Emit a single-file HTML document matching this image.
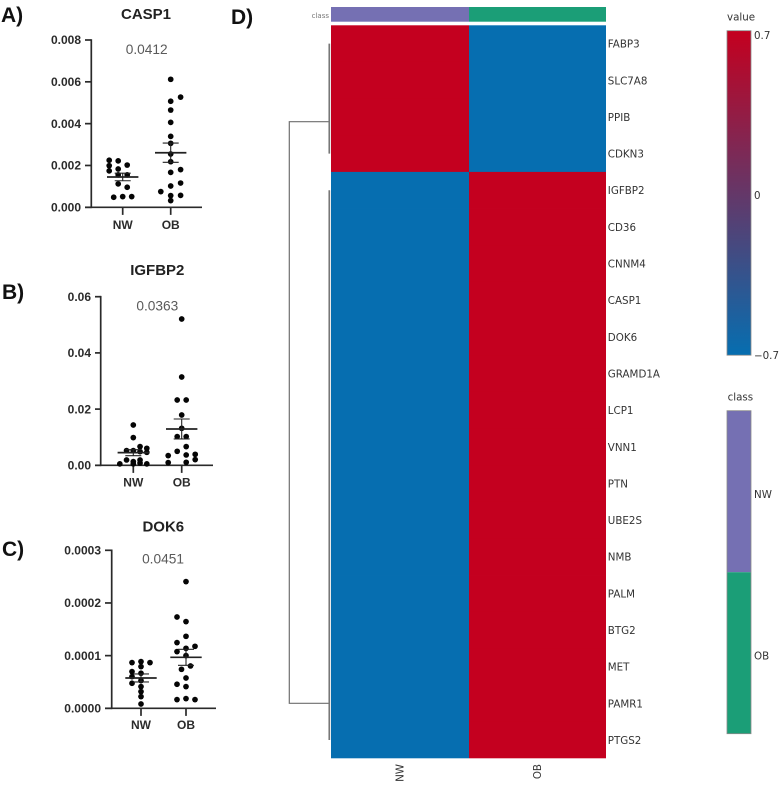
<!DOCTYPE html>
<html lang="en">
<head>
<meta charset="utf-8">
<title>Gene expression panels and heatmap</title>
<style>
  html, body { margin: 0; padding: 0; background: #fff; }
  #figure { display: block; width: 784px; height: 785px; filter: blur(0.35px); }
  .panel-letter { font: bold 21px "Liberation Sans", sans-serif; fill: #111; }
  .panel-title { font: bold 15px "Liberation Sans", sans-serif; fill: #222; text-anchor: middle; }
  .p-value { font: 13.7px "Liberation Sans", sans-serif; fill: #5a5a5a; text-anchor: middle; }
  .tick-label { font: bold 12px "Liberation Sans", sans-serif; fill: #2b2b2b; }
  .hm-label { font: 10.3px "DejaVu Sans", sans-serif; fill: #333; }
</style>
</head>
<body>
<svg id="figure" xmlns="http://www.w3.org/2000/svg" width="784" height="785" viewBox="0 0 784 785">
  <defs>
    <linearGradient id="value-gradient" x1="0" y1="0" x2="0" y2="1"></linearGradient>
  </defs>
  <rect x="0" y="0" width="784" height="785" fill="#fff"/>

  <text class="panel-letter" x="1" y="22">A)</text>
  <text class="panel-letter" x="2" y="299">B)</text>
  <text class="panel-letter" x="2" y="556">C)</text>
  <text class="panel-letter" x="231" y="24">D)</text>

  <text class="panel-title" x="146" y="19">CASP1</text>
  <text class="p-value" x="146.7" y="54">0.0412</text>
  <text class="panel-title" x="157.3" y="275">IGFBP2</text>
  <text class="p-value" x="157.3" y="310.7">0.0363</text>
  <text class="panel-title" x="163.3" y="531.3">DOK6</text>
  <text class="p-value" x="163" y="563.3">0.0451</text>

  <g id="scatter-a"></g>
  <g id="scatter-b"></g>
  <g id="scatter-c"></g>

  <text class="hm-label" x="329" y="18" text-anchor="end" style="font-size:7px;fill:#777">class</text>
  <g id="heatmap"></g>

  <text class="hm-label" x="727" y="20.7">value</text>
  <rect x="727" y="30.7" width="24" height="324.5" fill="url(#value-gradient)" stroke="#8a8a8a" stroke-width="0.8"/>
  <g id="value-legend"></g>

  <text class="hm-label" x="727.6" y="400.7">class</text>
  <g id="class-legend"></g>
</svg>

<script>
/* ---------- Scatter data ---------- */
const groupLabels = ['NW', 'OB'];

const casp1Ticks = ['0.000', '0.002', '0.004', '0.006', '0.008'];
const casp1NW = [0.00225, 0.00222, 0.00199, 0.00202, 0.00174, 0.00183, 0.00155, 0.00155, 0.00112, 0.00096, 0.00048, 0.00051, 0.00051];
const casp1NWSlots = [-3, -1, -3, 1, -3, -1, -1, 1, -1, 1, -2, 0, 2];
const casp1OB = [0.00612, 0.00527, 0.00507, 0.00465, 0.00406, 0.00339, 0.00306, 0.00255, 0.00218, 0.00167, 0.0018, 0.00102, 0.00116, 0.00075, 0.00056, 0.00057, 0.00032];
const casp1OBSlots = [0, 2.2, 0, 0, 0, 0, 0, 0, 0, 0, 2.2, 0, 2.2, -2.2, 0, 2.2, 0];
const casp1Means = [0.00145, 0.00261];
const casp1Sems = [0.00018, 0.00046];

const igfbp2Ticks = ['0.00', '0.02', '0.04', '0.06'];
const igfbp2NW = [0.01435, 0.00984, 0.00664, 0.00605, 0.00522, 0.00522, 0.00486, 0.00462, 0.0019, 0.0013, 0.0019, 0.0005, 0.0005, 0.0005, 0.0008];
const igfbp2NWSlots = [0, 0, 1.5, 3, -1.5, 0, 1.5, 3, -1.5, 0, 1.5, -3, 0, 3, 1.5];
const igfbp2OB = [0.05206, 0.03142, 0.02324, 0.02324, 0.0179, 0.01316, 0.0102, 0.0102, 0.00664, 0.00498, 0.00344, 0.00368, 0.00391, 0.00202, 0.00095, 0.00107];
const igfbp2OBSlots = [0, 0, -1, 1, 0, 0, -1, 1, 1, -1, -3, 1, 3, 3, -3, 1];
const igfbp2Means = [0.0045, 0.01293];
const igfbp2Sems = [0.00107, 0.00355];

const dok6Ticks = ['0.0000', '0.0001', '0.0002', '0.0003'];
const dok6NW = [0.0000867, 0.0000886, 0.0000867, 0.0000791, 0.0000696, 0.0000665, 0.0000601, 0.0000525, 0.0000475, 0.0000411, 0.0000316, 0.0000222, 0.0000082];
const dok6NWSlots = [-2, 0, 2, 0, -2, 0, -2, 0, -2, 0, 0, 0, 0];
const dok6OB = [0.0002405, 0.0001734, 0.0001646, 0.0001367, 0.0001247, 0.0001177, 0.0001139, 0.0001076, 0.0001, 0.0000804, 0.000074, 0.0000576, 0.0000456, 0.0000411, 0.0000165, 0.0000184, 0.0000165];
const dok6OBSlots = [0, -2, 0, 0, -2, 2, 0, -2, 0, 1, -1, 0, -2, 0, -2, 0, 2];
const dok6Means = [0.0000576, 0.0000968];
const dok6Sems = [0.0000076, 0.0000152];

/* ---------- Heatmap data ---------- */
const geneNames = ['FABP3', 'SLC7A8', 'PPIB', 'CDKN3', 'IGFBP2', 'CD36', 'CNNM4', 'CASP1', 'DOK6', 'GRAMD1A', 'LCP1', 'VNN1', 'PTN', 'UBE2S', 'NMB', 'PALM', 'BTG2', 'MET', 'PAMR1', 'PTGS2'];
const heatNW = [0.7, 0.7, 0.7, 0.7, -0.7, -0.7, -0.7, -0.7, -0.7, -0.7, -0.7, -0.7, -0.7, -0.7, -0.7, -0.7, -0.7, -0.7, -0.7, -0.7];
const heatOB = [-0.7, -0.7, -0.7, -0.7, 0.7, 0.7, 0.7, 0.7, 0.7, 0.7, 0.7, 0.7, 0.7, 0.7, 0.7, 0.7, 0.7, 0.7, 0.7, 0.7];
const valueTicks = [0.7, 0, -0.7];
const classNames = ['NW', 'OB'];

const SVG_NS = 'http://www.w3.org/2000/svg';
const SLOT_PX = 4.5;

function make(tag, attrs, parent) {
  const el = document.createElementNS(SVG_NS, tag);
  for (const key in attrs) el.setAttribute(key, attrs[key]);
  parent.appendChild(el);
  return el;
}

function linearScale(d0, d1, r0, r1) {
  return function (v) { return r0 + (v - d0) / (d1 - d0) * (r1 - r0); };
}

function drawScatter(host, key, cfg) {
  const y = linearScale(0, Number(cfg.ticks[cfg.ticks.length - 1]), cfg.y0, cfg.yTop);
  const INK = '#2a2a2a';

  const yAxis = make('line', { x1: cfg.axisX, x2: cfg.axisX, y1: cfg.yTop - 0.8, y2: cfg.y0 + 0.8, stroke: INK, 'stroke-width': 1.7 }, host);
  
  

  const xAxis = make('line', { x1: cfg.axisLeft, x2: cfg.axisRight, y1: cfg.y0, y2: cfg.y0, stroke: INK, 'stroke-width': 1.7 }, host);
  
  

  cfg.ticks.forEach(function (label) {
    const ty = y(Number(label));
    const tick = make('line', { x1: cfg.axisLeft, x2: cfg.axisX, y1: ty, y2: ty, stroke: INK, 'stroke-width': 1.7 }, host);
    
    

    const text = make('text', { class: 'tick-label', x: cfg.axisLeft - 4, y: ty + 4.2, 'text-anchor': 'end' }, host);
    text.textContent = label;
    
    
  });

  groupLabels.forEach(function (group, g) {
    const cx = cfg.centers[g];

    const tick = make('line', { x1: cx, x2: cx, y1: cfg.y0, y2: cfg.y0 + 7.6, stroke: INK, 'stroke-width': 1.7 }, host);
    
    

    const label = make('text', { class: 'tick-label', x: cx, y: cfg.labelY, 'text-anchor': 'middle' }, host);
    label.textContent = group;
    
    

    cfg.values[g].forEach(function (v, i) {
      const dot = make('circle', { cx: cx + cfg.slots[g][i] * SLOT_PX, cy: y(v), r: 2.85, fill: '#050505' }, host);
      
      
    });

    const meanY = y(cfg.means[g]);
    const upY = y(cfg.means[g] + cfg.sems[g]);
    const downY = y(cfg.means[g] - cfg.sems[g]);

    const mean = make('line', { x1: cx - 15.7, x2: cx + 15.7, y1: meanY, y2: meanY, stroke: '#222', 'stroke-width': 1.7 }, host);
    
    

    const stem = make('line', { x1: cx, x2: cx, y1: upY, y2: downY, stroke: '#222', 'stroke-width': 1.1 }, host);
    
    

    const capUp = make('line', { x1: cx - 8, x2: cx + 8, y1: upY, y2: upY, stroke: '#222', 'stroke-width': 1.1 }, host);
    
    

    const capDown = make('line', { x1: cx - 8, x2: cx + 8, y1: downY, y2: downY, stroke: '#222', 'stroke-width': 1.1 }, host);
    
    
  });
}

drawScatter(document.getElementById('scatter-a'), 'casp1', {
  ticks: casp1Ticks, values: [casp1NW, casp1OB], slots: [casp1NWSlots, casp1OBSlots],
  means: casp1Means, sems: casp1Sems,
  axisX: 91.3, axisLeft: 85, axisRight: 202, y0: 207.3, yTop: 40,
  centers: [122.7, 170.7], labelY: 229
});
drawScatter(document.getElementById('scatter-b'), 'igfbp2', {
  ticks: igfbp2Ticks, values: [igfbp2NW, igfbp2OB], slots: [igfbp2NWSlots, igfbp2OBSlots],
  means: igfbp2Means, sems: igfbp2Sems,
  axisX: 100.7, axisLeft: 95, axisRight: 213, y0: 465.3, yTop: 296.7,
  centers: [133.3, 181.7], labelY: 486.7
});
drawScatter(document.getElementById('scatter-c'), 'dok6', {
  ticks: dok6Ticks, values: [dok6NW, dok6OB], slots: [dok6NWSlots, dok6OBSlots],
  means: dok6Means, sems: dok6Sems,
  axisX: 111.7, axisLeft: 105, axisRight: 216, y0: 708.3, yTop: 550.3,
  centers: [141, 186], labelY: 729
});

/* ---------- Colour scales ---------- */
const COLOR_LOW = [6, 110, 176];
const COLOR_HIGH = [196, 0, 31];
const VALUE_MAX = 0.7;

function valueColor(v) {
  const t = Math.max(0, Math.min(1, (v + VALUE_MAX) / (2 * VALUE_MAX)));
  const c = COLOR_LOW.map(function (low, i) { return Math.round(low + (COLOR_HIGH[i] - low) * t); });
  return 'rgb(' + c.join(',') + ')';
}

function classColor(name) {
  return name === 'NW' ? '#7570b3' : '#1b9e77';
}

/* ---------- Heatmap ---------- */
(function () {
  const host = document.getElementById('heatmap');
  const left = 331, right = 606, top = 25.3, bottom = 758.3, mid = 469;
  const rowH = (bottom - top) / geneNames.length;
  const colEdges = [left, mid, right];
  const rowCenter = function (i) { return top + rowH * (i + 0.5); };

  classNames.forEach(function (name, c) {
    const bar = make('rect', { x: colEdges[c], y: 7, width: colEdges[c + 1] - colEdges[c], height: 14.7, fill: classColor(name) }, host);
    
    

    const label = make('text', { class: 'hm-label', transform: 'translate(' + ((colEdges[c] + colEdges[c + 1]) / 2 + 3.5) + ',764) rotate(-90)', 'text-anchor': 'end' }, host);
    label.textContent = name;
    
    
  });

  const columns = [heatNW, heatOB];
  geneNames.forEach(function (gene, r) {
    columns.forEach(function (col, c) {
      const cell = make('rect', { x: colEdges[c], y: top + rowH * r, width: colEdges[c + 1] - colEdges[c], height: rowH + 0.4, fill: valueColor(col[r]) }, host);
      if (r === geneNames.length - 1) cell.setAttribute('height', rowH);
      
      
    });

    const label = make('text', { class: 'hm-label', x: 607.8, y: rowCenter(r) + 4 }, host);
    label.textContent = gene;
    
    
  });

  /* dendrogram */
  const trunkX = 289.3, leafX = 329.3;
  const upperMerge = 121.7, lowerMerge = 703.3;
  const tree = make('path', {
    d: 'M' + leafX + ' ' + upperMerge + 'H' + trunkX + 'V' + lowerMerge + 'H' + leafX,
    fill: 'none', stroke: '#6f6f6f', 'stroke-width': 1.2
  }, host);
  
  

  const branchA = make('line', { x1: leafX, x2: leafX, y1: rowCenter(0), y2: rowCenter(3), stroke: '#777', 'stroke-width': 1.7 }, host);
  
  

  const branchB = make('line', { x1: leafX, x2: leafX, y1: rowCenter(4), y2: rowCenter(19), stroke: '#777', 'stroke-width': 1.7 }, host);
  
  
})();

/* ---------- Legends ---------- */
(function () {
  const grad = document.getElementById('value-gradient');
  [VALUE_MAX, 0, -VALUE_MAX].forEach(function (v, i) {
    make('stop', { offset: (i * 50) + '%', 'stop-color': valueColor(v) }, grad);
  });

  const host = document.getElementById('value-legend');
  const y = linearScale(VALUE_MAX, -VALUE_MAX, 39, 359);
  valueTicks.forEach(function (v) {
    const label = make('text', { class: 'hm-label', x: 754, y: y(v) }, host);
    label.textContent = v < 0 ? '\u2212' + Math.abs(v) : String(v);
    
    
  });

  const classHost = document.getElementById('class-legend');
  const top = 410.7, step = 161.5;
  classNames.forEach(function (name, i) {
    const swatch = make('rect', { x: 727, y: top + step * i, width: 24, height: step, fill: classColor(name) }, classHost);
    
    

    const label = make('text', { class: 'hm-label', x: 754, y: top + step * (i + 0.5) + 6.5 }, classHost);
    label.textContent = name;
    
    
  });

  const frame = make('rect', { x: 727, y: top, width: 24, height: step * classNames.length, fill: 'none', stroke: '#8a8a8a', 'stroke-width': 0.8 }, classHost);
  
  
})();
</script>
</body>
</html>
